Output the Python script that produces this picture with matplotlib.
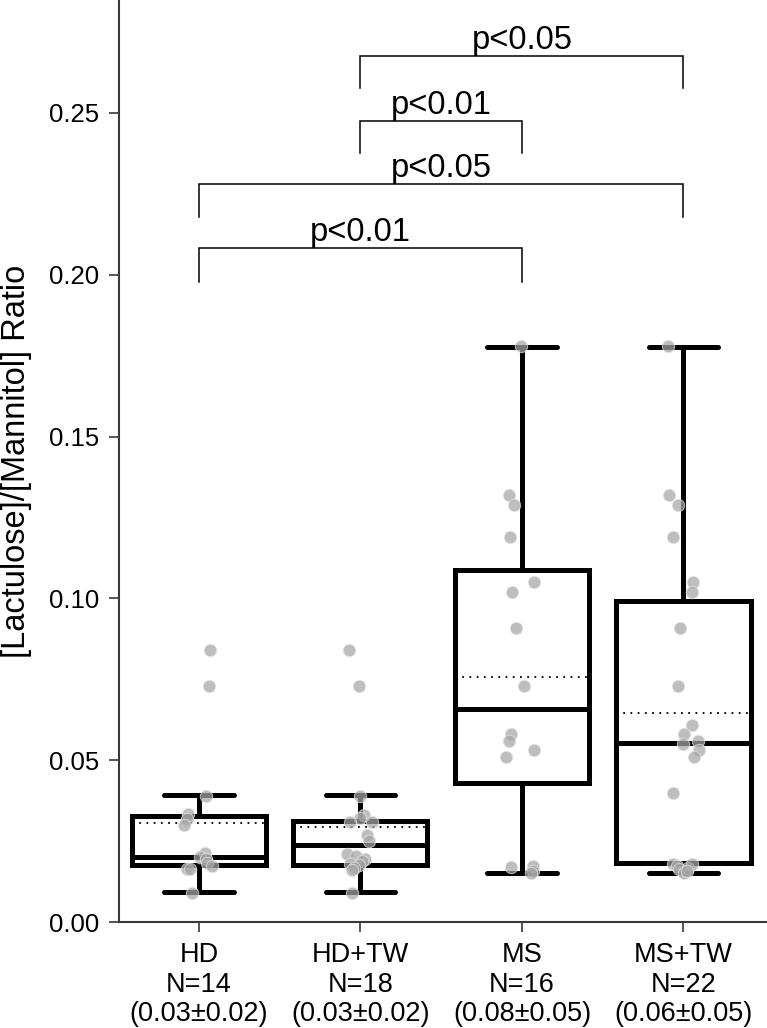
import matplotlib
matplotlib.use("Agg")
import matplotlib.pyplot as plt
import numpy as np

plt.rcParams['font.family'] = ['Liberation Sans', 'DejaVu Sans']

# ---- data ----
groups = ["HD", "HD+TW", "MS", "MS+TW"]
n_labels = ["N=14", "N=18", "N=16", "N=22"]
mean_sd = ["(0.03±0.02)", "(0.03±0.02)", "(0.08±0.05)", "(0.06±0.05)"]

q1 = [0.0176, 0.0176, 0.0430, 0.0182]
median = [0.0202, 0.0238, 0.0658, 0.0553]
q3 = [0.0327, 0.0312, 0.1088, 0.0992]
whisk_lo = [0.0092, 0.0092, 0.0151, 0.0151]
whisk_hi = [0.0392, 0.0392, 0.1777, 0.1777]
means = [0.0305, 0.0295, 0.0757, 0.0646]

hd_vals = [0.084, 0.073, 0.039, 0.0334, 0.0319, 0.030, 0.0213, 0.0200, 0.0195, 0.0183, 0.0173, 0.0164, 0.0164, 0.009]
hd_jit = [0.068, 0.062, 0.043, -0.066, -0.076, -0.093, 0.037, 0.006, 0.043, 0.050, 0.078, -0.076, -0.056, -0.045]
hdtw_vals = [0.084, 0.073, 0.039, 0.033, 0.032, 0.031, 0.031, 0.027, 0.025, 0.021, 0.0204, 0.0195, 0.019, 0.018, 0.0175, 0.0167, 0.016, 0.009]
hdtw_jit = [-0.074, -0.006, 0.000, 0.019, 0.000, -0.062, 0.074, 0.043, 0.050, -0.083, -0.025, 0.031, 0.010, -0.062, -0.012, -0.043, -0.050, -0.050]
ms_vals = [0.178, 0.132, 0.129, 0.119, 0.105, 0.102, 0.091, 0.073, 0.058, 0.056, 0.053, 0.051, 0.017, 0.0173, 0.0158, 0.0152]
ms_jit = [-0.008, -0.080, -0.050, -0.074, 0.074, -0.062, -0.037, 0.012, -0.068, -0.080, 0.074, -0.100, -0.068, 0.068, 0.068, 0.056]
mstw_vals = [0.178, 0.132, 0.129, 0.119, 0.105, 0.102, 0.091, 0.073, 0.061, 0.058, 0.055, 0.056, 0.053, 0.051, 0.040,
             0.018, 0.0173, 0.0164, 0.0152, 0.0167, 0.018, 0.0158]
mstw_jit = [-0.093, -0.087, -0.031, -0.062, 0.056, 0.050, -0.019, -0.031, 0.050, 0.006, -0.006, 0.087, 0.093, 0.062, -0.062,
            -0.068, -0.043, -0.025, 0.006, 0.025, 0.050, 0.019]
points = [hd_vals, hdtw_vals, ms_vals, mstw_vals]
jitters = [hd_jit, hdtw_jit, ms_jit, mstw_jit]

# significance brackets
brk_a = [0, 0, 1, 1]
brk_b = [2, 3, 2, 3]
brk_top = [0.2083, 0.2281, 0.2475, 0.2676]
brk_bottom = [0.1978, 0.2179, 0.2376, 0.2577]
brk_text = ["p<0.01", "p<0.05", "p<0.01", "p<0.05"]

# ---- figure ----
W, H = 767, 1028
fig = plt.figure(figsize=(W / 100, H / 100), dpi=100)
ax = fig.add_axes([119 / W, (H - 922) / H, 1 - 119 / W, 922 / H])

stats = []
for i in range(len(groups)):
    stats.append(dict(med=median[i], q1=q1[i], q3=q3[i], whislo=whisk_lo[i],
                      whishi=whisk_hi[i], mean=means[i], fliers=[]))

lw = 3.6
ax.bxp(stats, positions=range(len(groups)), widths=0.83, showmeans=True, meanline=True,
       showfliers=False,
       boxprops=dict(color='black', linewidth=lw, solid_joinstyle='miter'),
       medianprops=dict(color='black', linewidth=lw, solid_capstyle='butt'),
       whiskerprops=dict(color='black', linewidth=lw, solid_capstyle='butt'),
       capprops=dict(color='black', linewidth=lw, solid_capstyle='round'),
       capwidths=0.43,
       meanprops=dict(color='black', linestyle=(0, (1, 3)), linewidth=1.3),
       zorder=2)

for i, (vals, jit) in enumerate(zip(points, jitters)):
    xs = i + np.array(jit)
    ax.scatter(xs, vals, s=80, color='#a6a6a6', alpha=0.72, edgecolors='#e6e6e6',
               linewidths=0.7, zorder=3)

for a, b, top, bot, txt in zip(brk_a, brk_b, brk_top, brk_bottom, brk_text):
    ax.plot([a, a, b, b], [bot, top, top, bot], color='black', lw=1.1,
            solid_joinstyle='miter', zorder=4)
    ax.text((a + b) / 2, top, txt, ha='center', va='bottom', fontsize=23.5)

ax.set_xlim(-0.495, 3.517)
ax.set_ylim(0, 922 / 3236)
ax.set_yticks([0.0, 0.05, 0.10, 0.15, 0.20, 0.25])
ax.set_yticklabels(["0.00", "0.05", "0.10", "0.15", "0.20", "0.25"])
ax.set_xticks(range(len(groups)))
ax.set_xticklabels([f"{g}\n{n}\n{m}" for g, n, m in zip(groups, n_labels, mean_sd)],
                   linespacing=1.17)

for s in ['top', 'right']:
    ax.spines[s].set_visible(False)
for s in ['left', 'bottom']:
    ax.spines[s].set_color('#383838')
    ax.spines[s].set_linewidth(1.5)
ax.tick_params(axis='both', colors='#383838', width=1.2, length=7.5, labelsize=18.5,
               labelcolor='black')
ax.tick_params(axis='x', labelsize=19.5, pad=7)
ax.tick_params(axis='y', pad=7)

ax.set_ylabel("[Lactulose]/[Mannitol] Ratio", fontsize=23.5)
ax.yaxis.set_label_coords(-0.134, 0.5)

fig.savefig("out.png", dpi=100)
